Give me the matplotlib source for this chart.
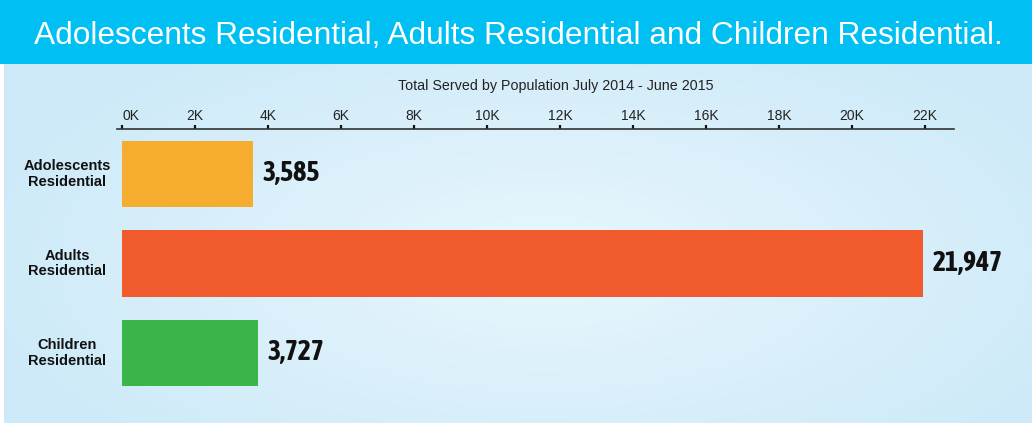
import matplotlib.pyplot as plt
import matplotlib.transforms as transforms
from matplotlib import font_manager
import numpy as np

# Data
categories = ["Adolescents\nResidential", "Adults\nResidential", "Children\nResidential"]
values = [3585, 21947, 3727]
barColors = ["#F5AC2F", "#F05A2C", "#3BB54A"]
tickValues = [0, 2000, 4000, 6000, 8000, 10000, 12000, 14000, 16000, 18000, 20000, 22000]
tickLabels = ["0K", "2K", "4K", "6K", "8K", "10K", "12K", "14K", "16K", "18K", "20K", "22K"]


def weightNum(w):
    if isinstance(w, int):
        return w
    return font_manager.weight_dict.get(w, 400)


def stretchNum(s):
    if isinstance(s, int):
        return s
    return font_manager.stretch_dict.get(s, 500)


# look for a bold condensed font for the value labels (closest to plain bold)
narrowFont = None
bestScore = None
for f in font_manager.fontManager.ttflist:
    named = "Narrow" in f.name or "Condensed" in f.name
    if not (named or stretchNum(f.stretch) < 500):
        continue
    if weightNum(f.weight) < 600 or f.style != "normal":
        continue
    score = abs(weightNum(f.weight) - 700) + (0 if named else 50)
    if bestScore is None or score < bestScore:
        bestScore = score
        narrowFont = f

W, H = 1032, 423
fig = plt.figure(figsize=(W / 100, H / 100), dpi=100)
fig.patch.set_facecolor("white")

# Title band
band = fig.add_axes([0, (H - 64) / H, 1, 64 / H])
band.set_facecolor("#00BFF3")
band.set_xticks([])
band.set_yticks([])
for s in band.spines.values():
    s.set_visible(False)
band.text(0.502, 0.43, "Adolescents Residential, Adults Residential and Children Residential.",
          color="white", fontsize=22.8, family="Liberation Sans", ha="center", va="center",
          transform=band.transAxes)

# Light blue panel with soft gradient
panel = fig.add_axes([4 / W, 0, (W - 4) / W, (H - 64) / H])
gx, gy = np.meshgrid(np.linspace(-1, 1, 300), np.linspace(-1, 1, 120))
r = np.clip(np.sqrt(((gx - 0.05) / 1.1) ** 2 + ((gy - 0.1) / 1.4) ** 2), 0, 1)
edge = np.array([0.81, 0.92, 0.975])
center = np.array([0.91, 0.965, 0.99])
img = center[None, None, :] * (1 - r[..., None]) + edge[None, None, :] * r[..., None]
panel.imshow(img, aspect="auto", extent=[0, 1, 0, 1])
panel.set_axis_off()

# Main chart axes
axTop = (H - 129) / H
axBottom = (H - 420) / H
ax = fig.add_axes([117 / W, axBottom, (954 - 117) / W, axTop - axBottom])
ax.patch.set_alpha(0)

y = np.arange(len(values))
ax.barh(y, values, height=0.74, color=barColors)
ax.set_xlim(-137, 22795)
ax.set_ylim(2.75, -0.503)

ax.xaxis.tick_top()
ax.set_xticks(tickValues)
ax.set_xticklabels(tickLabels, fontsize=10, family="Liberation Sans", color="#222222")
ax.get_xticklabels()[0].set_horizontalalignment("left")
ax.tick_params(axis="x", direction="out", length=0, pad=4.5)
ax.set_yticks([])
for side in ["left", "right", "bottom"]:
    ax.spines[side].set_visible(False)
ax.spines["top"].set_color("#333333")
ax.spines["top"].set_linewidth(1.2)

# small upward ticks on axis line
for t in tickValues:
    ax.plot([t, t], [-0.503, -0.503 - 0.05], color="#111111", lw=1.6, clip_on=False,
            solid_capstyle="butt")

fig.text(556 / W, (H - 86) / H, "Total Served by Population July 2014 - June 2015",
         ha="center", va="center", fontsize=10.3, family="Liberation Sans", color="#222222")

# category labels
labTrans = transforms.blended_transform_factory(fig.transFigure, ax.transData)
for i, cat in enumerate(categories):
    ax.text(67 / W, i, cat, transform=labTrans, ha="center", va="center", fontsize=10.5,
            fontweight="bold", family="Liberation Sans", color="#111111", linespacing=1.15)

# value labels
if narrowFont is not None:
    valueFont = dict(fontproperties=font_manager.FontProperties(fname=narrowFont.fname, size=20))
else:
    valueFont = dict(family="Liberation Sans", fontsize=17, fontweight="bold")
for i, v in enumerate(values):
    ax.annotate("{:,}".format(v), xy=(v, i), xytext=(7, 0), textcoords="offset points",
                ha="left", va="center", color="#111111", **valueFont)

fig.savefig("out.png", dpi=100)
